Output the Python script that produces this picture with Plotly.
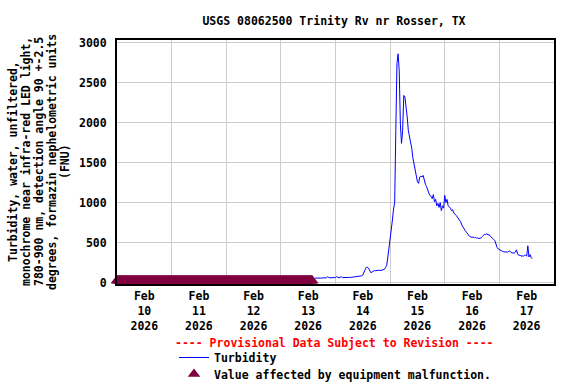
import pandas as pd
import plotly.graph_objects as go

# ---------------- data ----------------
title_text = "USGS 08062500 Trinity Rv nr Rosser, TX"
y_title_lines = [
    "Turbidity, water, unfiltered,",
    "monochrome near infra-red LED light,",
    "780-900 nm, detection angle 90 +-2.5",
    "degrees, formazin nephelometric units",
    "(FNU)",
]
provisional_text = "---- Provisional Data Subject to Revision ----"
series_names = ["Turbidity", "Value affected by equipment malfunction."]

# Turbidity (FNU), 30-minute readings starting Feb 13 15:00
turb_start = "2026-02-13 15:00"
turb_values = [
    57, 55, 56, 58, 57, 56, 58, 60, 59, 58, 60, 72, 60, 59, 61, 62, 60, 61,
    63, 74, 62, 61, 63, 76, 62, 64, 63, 65, 64, 66, 65, 64, 66, 68, 67, 69,
    68, 70, 72, 74, 78, 85, 95, 120, 160, 190, 195, 180, 140, 125, 130, 145,
    150, 148, 152, 150, 155, 150, 153, 158, 155, 165, 190, 215, 320, 420, 520, 680,
    780, 920, 1000, 1900, 2740, 2860, 2650, 1980, 1740, 1900, 2340, 2320, 2220, 2070,
    1900, 1820, 1780, 1680, 1560, 1480, 1430, 1320, 1260, 1240, 1320, 1330, 1320, 1340,
    1260, 1230, 1200, 1150, 1120, 1090, 1080, 1050, 1100, 1010, 1040, 960, 990, 940,
    1000, 900, 960, 930, 1090, 1000, 1040, 960, 950, 930, 900, 910, 870, 860,
    840, 820, 800, 780, 760, 720, 690, 670, 650, 630, 610, 590, 575, 570,
    565, 570, 560, 565, 555, 560, 550, 555, 560, 575, 590, 605, 600, 612,
    595, 600, 580, 570, 550, 540, 525, 470, 440, 420, 410, 405, 395, 390,
    385, 380, 383, 380, 390, 395, 385, 370, 372, 368, 380, 410, 360, 340,
    345, 330, 335, 330, 340, 345, 330, 460, 320, 350, 310, 300,
]
turb_times = pd.date_range(turb_start, periods=len(turb_values), freq="30min")

# Equipment-malfunction flags, 15-minute readings (symbols sit at the base of the plot)
mal_start = "2026-02-10 00:00"
mal_end = "2026-02-13 13:45"
mal_times = pd.date_range(mal_start, mal_end, freq="15min")
mal_level = 25
mal_values = [mal_level] * len(mal_times)

x_range = ["2026-02-10 00:00", "2026-02-18 00:00"]
y_range = [-17.5, 3032.5]

# ---------------- styles ----------------
FONT = "DejaVu Sans Mono"
LINE_BLUE = "#0000FF"
MAROON = "#800040"
GRID = "#CCCCCC"

fig = go.Figure()
fig.add_trace(go.Scatter(
    x=turb_times, y=turb_values, mode="lines", name=series_names[0],
    line=dict(color=LINE_BLUE, width=1), legend="legend",
))
fig.add_trace(go.Scatter(
    x=mal_times, y=mal_values, mode="markers", name=series_names[1],
    marker=dict(symbol="triangle-up", size=11, color=MAROON, line=dict(width=0)),
    cliponaxis=False, legend="legend2",
))

W, H = 576, 384
L, R, T, B = 117, 22, 40, 100
pw, ph = W - L - R, H - T - B

annotations = []
# y-axis title, one annotation per line for tight line spacing
line_x_px = [13, 26, 39, 52, 65]
for txt, xp in zip(y_title_lines, line_x_px):
    annotations.append(dict(
        text=txt, textangle=-90, showarrow=False,
        xref="paper", yref="paper", x=(xp - L) / pw, y=0.5,
        xanchor="center", yanchor="middle",
        font=dict(family=FONT, size=11.5, color="black", weight="bold"),
    ))
annotations.append(dict(
    text=provisional_text, showarrow=False,
    xref="paper", yref="paper", x=(334 - L) / pw, y=(T + ph - 343.3) / ph,
    xanchor="center", yanchor="middle",
    font=dict(family=FONT, size=11.5, color="#FF0000", weight="bold"),
))

legend_font = dict(family=FONT, size=11.5, color="black", weight="bold")
fig.update_layout(
    width=W, height=H,
    margin=dict(l=L, r=R, t=T, b=B, pad=0, autoexpand=False),
    paper_bgcolor="white", plot_bgcolor="white",
    font=dict(family=FONT, size=11.5, color="black", weight="bold"),
    title=dict(text=title_text, x=334 / W, xanchor="center",
               y=1 - 20.7 / H, yanchor="middle",
               font=dict(family=FONT, size=11.5, color="black", weight="bold")),
    showlegend=True,
    legend=dict(x=(174 - L) / pw, y=(T + ph - 343) / ph, xanchor="left", yanchor="top",
                bgcolor="rgba(0,0,0,0)", borderwidth=0, font=legend_font),
    legend2=dict(x=(174 - L) / pw, y=(T + ph - 359.5) / ph, xanchor="left", yanchor="top",
                 bgcolor="rgba(0,0,0,0)", borderwidth=0, font=legend_font),
    annotations=annotations,
    xaxis=dict(
        range=x_range, type="date",
        tick0="2026-02-10", dtick=86400000, ticklabelmode="period",
        tickformat="%b<br>%d<br>%Y", ticks="",
        showgrid=True, gridcolor=GRID, gridwidth=1,
        showline=True, linecolor="black", linewidth=2, mirror=True,
        zeroline=False,
        tickfont=dict(family=FONT, size=11.5, color="black", weight="bold"),
    ),
    yaxis=dict(
        range=y_range, tick0=0, dtick=500, tickformat="d",
        ticks="", ticklabelstandoff=6,
        showgrid=True, gridcolor=GRID, gridwidth=1,
        showline=True, linecolor="black", linewidth=2, mirror=True,
        zeroline=False,
        tickfont=dict(family=FONT, size=11.5, color="black", weight="bold"),
    ),
)

fig.write_html("out.html", config={"displayModeBar": False},
               post_script="document.body.style.margin='0';")
